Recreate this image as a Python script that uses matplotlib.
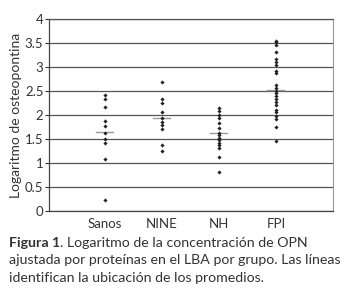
import matplotlib
matplotlib.use("Agg")
import matplotlib.pyplot as plt

categories = ["Sanos", "NINE", "NH", "FPI"]
sanos = [2.42, 2.33, 2.16, 1.87, 1.78, 1.63, 1.49, 1.41, 1.08, 0.22]
nine = [2.69, 2.33, 2.24, 2.06, 1.93, 1.86, 1.79, 1.70, 1.37, 1.26]
nh = [2.15, 2.08, 2.01, 1.93, 1.83, 1.72, 1.63, 1.58, 1.53, 1.48, 1.42, 1.37, 1.31, 1.13, 0.81]
fpi = [3.55, 3.51, 3.46, 3.32, 3.16, 3.10, 3.04, 2.92, 2.88, 2.63, 2.56, 2.51, 2.45,
       2.40, 2.34, 2.28, 2.21, 2.10, 2.06, 1.98, 1.92, 1.76, 1.46]
means = [1.64, 1.93, 1.62, 2.52]
yticks = [0, 0.5, 1, 1.5, 2, 2.5, 3, 3.5, 4]
ytick_labels = ["0", "0.5", "1", "1.5", "2", "2.5", "3", "3.5", "4"]
ylabel = "Logaritmo de osteopontina"
caption_bold = "Figura 1"
caption_rest = ". Logaritmo de la concentración de OPN"
caption_lines = ["ajustada por proteínas en el LBA por grupo. Las líneas",
                 "identifican la ubicación de los promedios."]

plt.rcParams['font.family'] = ['Lato', 'DejaVu Sans']
fig = plt.figure(figsize=(3.5, 2.96), dpi=100)
ax = fig.add_axes([0.14, 0.287, 0.811, 0.649])

groups = [sanos, nine, nh, fpi]
xs = [1, 2, 3, 4]
for x, vals in zip(xs, groups):
    ax.scatter([x] * len(vals), vals, s=4.5, marker='D', color='#222222', linewidths=0, zorder=3)
for x, m in zip(xs, means):
    ax.plot([x - 0.15, x + 0.15], [m, m], color='#9a9a9a', lw=1.0, zorder=2)

ax.set_xlim(0.02, 5.0)
ax.set_ylim(0, 4)
ax.set_yticks(yticks)
ax.set_yticklabels(ytick_labels)
ax.set_xticks(xs)
ax.set_xticklabels(categories)
ax.tick_params(axis='x', length=0, pad=5, labelsize=9.5, colors='#333333')
ax.tick_params(axis='y', length=3, width=0.8, pad=1, labelsize=9.5, colors='#333333')
ax.yaxis.grid(True, color='#555555', lw=0.9)
ax.set_axisbelow(True)
for s in ['left', 'bottom']:
    ax.spines[s].set_color('#444444')
    ax.spines[s].set_linewidth(0.9)
ax.spines['right'].set_color('#999999')
ax.spines['right'].set_linewidth(0.8)
ax.spines['top'].set_color('#555555')
ax.spines['top'].set_linewidth(0.9)
ax.set_ylabel(ylabel, fontsize=10, color='#333333', labelpad=2)

fs = 10.2
t = fig.text(0.026, 0.166, caption_bold, fontsize=fs, fontweight='bold', color='#333333', va='baseline')
ax.annotate(caption_rest, xy=(1, 0), xycoords=t, fontsize=fs, color='#333333', va='bottom',
            annotation_clip=False)
fig.text(0.026, 0.108, caption_lines[0], fontsize=fs, color='#333333', va='baseline')
fig.text(0.026, 0.047, caption_lines[1], fontsize=fs, color='#333333', va='baseline')

fig.savefig("out.png", dpi=100)
